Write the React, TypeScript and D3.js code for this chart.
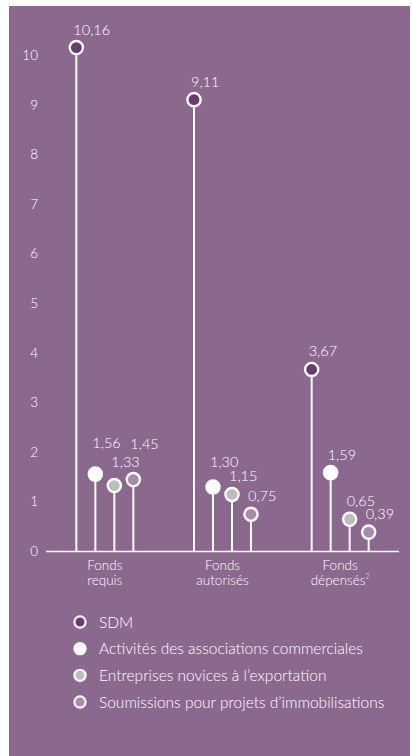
import React from "react";
import * as d3 from "d3";

const categories = ["Fonds requis", "Fonds autorisés", "Fonds dépensés"];
const seriesNames = [
  "SDM",
  "Activités des associations commerciales",
  "Entreprises novices à l’exportation",
  "Soumissions pour projets d’immobilisations",
];
const sdm = [10.16, 9.11, 3.67];
const activites = [1.56, 1.3, 1.59];
const entreprises = [1.33, 1.15, 0.65];
const soumissions = [1.45, 0.75, 0.39];
const yTicks = [0, 1, 2, 3, 4, 5, 6, 7, 8, 9, 10];

const seriesValues = [sdm, activites, entreprises, soumissions];
const seriesFill = ["#6a3b6f", "#ffffff", "#bdbdbd", "#a98aab"];

// extra upward nudges for crowded value labels (category-series)
const labelLift: Record<string, number> = { "0-1": 13, "0-2": 6, "0-3": 18, "1-1": 7 };

const W = 412;
const H = 756;
const BG = "#8b688e";
const FONT = "Lato, 'Open Sans', sans-serif";

const fmt = (v: number) => v.toFixed(2).replace(".", ",");

export default function App() {
  const y = d3.scaleLinear().domain([0, 10]).range([551.5, 55.5]);
  const xBand = d3.scaleBand<string>().domain(categories).range([46, 399]);
  const xInner = d3.scalePoint<string>().domain(seriesNames).range([-28.5, 28.5]);
  const cx = (ci: number, si: number) =>
    (xBand(categories[ci]) as number) + xBand.bandwidth() / 2 + (xInner(seriesNames[si]) as number);

  const legendY = d3.scalePoint<string>().domain(seriesNames).range([622, 702]);

  return (
    <svg
      width={W}
      height={H}
      style={{ position: "absolute", left: 0, top: 0, display: "block" }}
      fontFamily={FONT}
      fontWeight={300}
    >
      <rect x={9} y={6} width={401} height={750} fill={BG} />
      {/* y tick labels */}
      {yTicks.map((t) => (
        <text key={t} x={38} y={y(t) + 4.5} textAnchor="end" fontSize={13.5} fill="#fff">
          {t}
        </text>
      ))}
      {/* baseline */}
      <line x1={46} x2={399} y1={y(0)} y2={y(0)} stroke="#fff" strokeWidth={1.6} />
      {/* stems and circles */}
      {seriesValues.map((vals, si) =>
        vals.map((v, ci) => {
          const x = cx(ci, si);
          const yy = y(v);
          const lift = labelLift[`${ci}-${si}`] || 0;
          return (
            <g key={`${si}-${ci}`}>
              <line x1={x} x2={x} y1={y(0)} y2={yy} stroke="#fff" strokeWidth={2} />
              <circle cx={x} cy={yy} r={6.6} fill={seriesFill[si]} stroke="#fff" strokeWidth={2.4} />
              <text x={x - 3} y={yy - 13 - lift} fontSize={14.5} fill="#fff">
                {fmt(v)}
              </text>
            </g>
          );
        })
      )}
      {/* category labels */}
      {categories.map((c, ci) => {
        const [a, b] = c.split(" ");
        const x = (xBand(c) as number) + xBand.bandwidth() / 2;
        return (
          <text key={c} x={x} textAnchor="middle" fontSize={13.5} fill="#fff">
            <tspan x={x} y={570}>{a}</tspan>
            <tspan x={x} y={585}>
              {b}
              {ci === 2 ? (
                <tspan fontSize={7} dy={-6}>2</tspan>
              ) : null}
            </tspan>
          </text>
        );
      })}
      {/* legend */}
      {seriesNames.map((s, si) => {
        const ly = legendY(s) as number;
        return (
          <g key={s}>
            <circle cx={80} cy={ly} r={5.6} fill={seriesFill[si]} stroke="#fff" strokeWidth={2.2} />
            <text x={99} y={ly + 5.5} fontSize={15.5} fill="#fff">
              {s}
            </text>
          </g>
        );
      })}
    </svg>
  );
}
